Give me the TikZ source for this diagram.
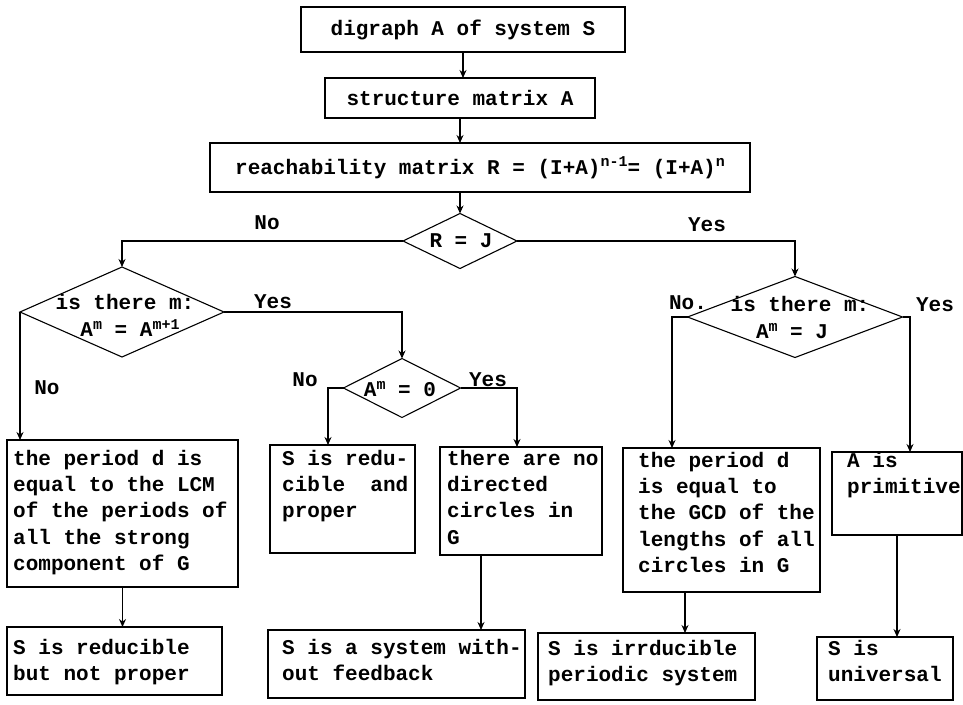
\documentclass[tikz,border=0pt]{standalone}
\usepackage{fontspec}
\newfontfamily\tw{Liberation Mono}
\usetikzlibrary{shapes.geometric,arrows.meta,calc}
\newcommand{\supx}[1]{\raisebox{0.36em}{\fontsize{15}{15}\selectfont #1}}
\begin{document}
\begin{tikzpicture}[x=1pt,y=-1pt,
  every node/.style={font=\tw\bfseries\fontsize{21}{26.25}\selectfont},
  box/.style={draw, line width=1.1pt, inner sep=0pt, outer sep=0pt, rectangle},
  dia/.style={draw, line width=1.1pt, diamond, inner sep=0pt, outer sep=0pt},
  txt/.style={anchor=north west, inner sep=0pt, align=left},
  dtxt/.style={inner sep=0pt, align=center},
  lbl/.style={inner sep=0pt},
  arr/.style={line width=1.1pt, -{Stealth[length=8pt,width=7pt]}},
]
\useasboundingbox (0,0) rectangle (963,704);

% top boxes
\node[box, minimum width=324pt, minimum height=45pt] (b1) at (463,29.5) {digraph A of system S};
\node[box, minimum width=270pt, minimum height=40pt] (b2) at (460,98) {structure matrix A};
\node[box, minimum width=540pt, minimum height=49pt] (b3) at (480,167.5) {reachability matrix R = (I+A)\supx{n-1}= (I+A)\supx{n}};

% diamonds
\node[dia, minimum width=114pt, minimum height=55pt] (d0) at (460,241) {};
\node[lbl] (t0) at (461,241) {R = J};
\node[dia, minimum width=204pt, minimum height=90pt] (d1) at (122,312) {};
\node[dtxt] (t1a) at (125,302) {is there m:};
\node[dtxt] (t1b) at (130,328) {A\supx{m} = A\supx{m+1}};
\node[dia, minimum width=117pt, minimum height=59pt] (d2) at (402,388) {};
\node[lbl] (t2) at (400,389) {A\supx{m} = 0};
\node[dia, minimum width=215pt, minimum height=81pt] (d3) at (795,317) {};
\node[dtxt] (t3a) at (800,304) {is there m:};
\node[dtxt] (t3b) at (792,331) {A\supx{m} = J};

% lower boxes
\node[box, minimum width=231pt, minimum height=147pt] (b4) at (122.5,513.5) {};
\node[txt] (x4) at (13,446.8) {\strut the period d is\\equal to the LCM\\of the periods of\\all the strong\\component of G};
\node[box, minimum width=215pt, minimum height=68pt] (b5) at (114.5,661) {};
\node[txt] (x5) at (13,635.8) {\strut S is reducible\\but not proper};
\node[box, minimum width=145pt, minimum height=108pt] (b6) at (342.5,499) {};
\node[txt] (x6) at (282,446.8) {\strut S is redu-\\cible\ \ and\\proper};
\node[box, minimum width=162pt, minimum height=108pt] (b7) at (521,501) {};
\node[txt] (x7) at (447,446.8) {\strut there are no\\directed\\circles in\\G};
\node[box, minimum width=257pt, minimum height=68pt] (b8) at (396.5,664) {};
\node[txt] (x8) at (282,635.8) {\strut S is a system with-\\out feedback};
\node[box, minimum width=197pt, minimum height=144pt] (b9) at (721.5,520) {};
\node[txt] (x9) at (638,448.8) {\strut the period d\\is equal to\\the GCD of the\\lengths of all\\circles in G};
\node[box, minimum width=217pt, minimum height=67pt] (b10) at (646.5,666.5) {};
\node[txt] (x10) at (548,636.8) {\strut S is irrducible\\periodic system};
\node[box, minimum width=130pt, minimum height=83pt] (b11) at (897,493.5) {};
\node[txt] (x11) at (847,448.8) {\strut A is\\primitive};
\node[box, minimum width=136pt, minimum height=63pt] (b12) at (885,668.5) {};
\node[txt] (x12) at (828,636.8) {\strut S is\\universal};

% labels
\node[lbl] (l1) at (267,223) {No};
\node[lbl] (l2) at (707,225) {Yes};
\node[lbl] (l3) at (273,302) {Yes};
\node[lbl] (l4) at (47,388) {No};
\node[lbl] (l5) at (305,380) {No};
\node[lbl] (l6) at (488,380) {Yes};
\node[lbl] (l7) at (688,303) {No.};
\node[lbl] (l8) at (935,305) {Yes};

% connector end points
\coordinate (c6) at (328,445);
\coordinate (c7) at (517,447);
\coordinate (c9) at (672,448);
\coordinate (c11) at (910,452);
\coordinate (c8) at (481,555);
\coordinate (c10) at (685,592);

% connectors
\draw[arr] (b1.south) -- (b1.south |- b2.north);
\draw[arr] (b2.south) -- (b2.south |- b3.north);
\draw[arr] (d0.north |- b3.south) -- (d0.north);
\draw[arr] (d0.west) -| (d1.north);
\draw[arr] (d0.east) -| (d3.north);
\draw[arr] (d1.east) -| (d2.north);
\draw[arr] (d1.west) -- (d1.west |- b4.north);
\draw[arr] (d2.west) -| (c6);
\draw[arr] (d2.east) -| (c7);
\draw[arr] (d3.west) -| (c9);
\draw[arr] (d3.east) -| (c11);
\draw[arr] (b4.south) -- (b4.south |- b5.north);
\draw[arr] (c8) -- (c8 |- b8.north);
\draw[arr] (c10) -- (c10 |- b10.north);
\draw[arr] (b11.south) -- (b11.south |- b12.north);
\end{tikzpicture}
\end{document}
